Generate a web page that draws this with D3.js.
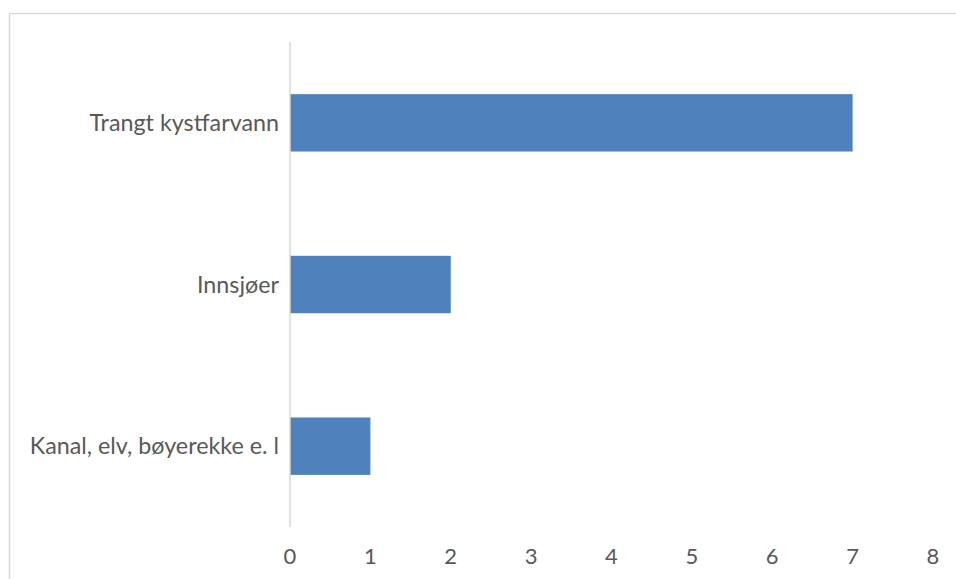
<!DOCTYPE html>
<html>
<head>
<meta charset="utf-8">
<script src="https://cdn.jsdelivr.net/npm/d3@7.9.0/dist/d3.min.js"></script>
<style>
  body { margin: 0; background: #fff; }
  svg text { font-family: Lato, "Open Sans", sans-serif; fill: #595959; }
</style>
</head>
<body>
<svg id="chart" width="956" height="579"></svg>
<script>
const categories = ['Trangt kystfarvann', 'Innsjøer', 'Kanal, elv, bøyerekke e. l'];
const values = [7, 2, 1];
const xTicks = [0, 1, 2, 3, 4, 5, 6, 7, 8];

const svg = d3.select('#chart');

// chart frame (only top and left edges fall inside the picture)
svg.append('path')
    .attr('d', 'M9.5,579 V13.5 H956')
    .attr('fill', 'none')
    .attr('stroke', '#d9d9d9')
    .attr('stroke-width', 1.5);

const x = d3.scaleLinear().domain([0, 8]).range([290, 933]);
const y = d3.scaleBand()
    .domain(categories)
    .range([42, 527])
    .paddingInner(0.645)
    .paddingOuter(0.3225);

const data = categories.map((c, i) => ({ label: c, value: values[i] }));

svg.selectAll('rect.bar')
    .data(data)
    .join('rect')
    .attr('class', 'bar')
    .attr('x', x(0))
    .attr('y', d => y(d.label))
    .attr('width', d => x(d.value) - x(0))
    .attr('height', y.bandwidth())
    .attr('fill', '#4f81bd');

// vertical axis line
svg.append('line')
    .attr('x1', x(0)).attr('x2', x(0))
    .attr('y1', 42).attr('y2', 527)
    .attr('stroke', '#d9d9d9')
    .attr('stroke-width', 1.5);

svg.selectAll('text.cat')
    .data(categories)
    .join('text')
    .attr('class', 'cat')
    .attr('x', x(0) - 11)
    .attr('y', d => y(d) + y.bandwidth() / 2)
    .attr('dy', '0.35em')
    .attr('text-anchor', 'end')
    .attr('font-size', 23.3)
    .text(d => d);

svg.selectAll('text.tick')
    .data(xTicks)
    .join('text')
    .attr('class', 'tick')
    .attr('x', d => x(d))
    .attr('y', 556)
    .attr('dy', '0.35em')
    .attr('text-anchor', 'middle')
    .attr('font-size', 22)
    .text(d => d);
</script>
</body>
</html>
